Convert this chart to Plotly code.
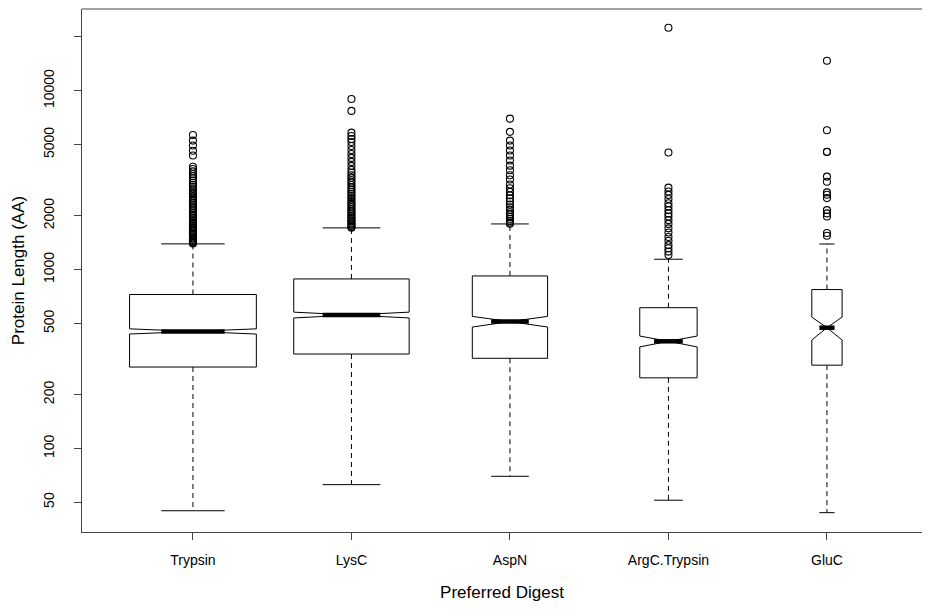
import numpy as np
import plotly.graph_objects as go

# ---- data (protein length, AA) ----
categories = ["Trypsin", "LysC", "AspN", "ArgC.Trypsin", "GluC"]
lower_whisker = [44.8, 62.7, 69.8, 51.3, 43.7]
q1 = [285, 337, 319, 248, 292]
median = [451, 557, 512, 397, 473]
q3 = [725, 886, 921, 612, 773]
upper_whisker = [1392, 1710, 1799, 1142, 1390]
n_obs = [2100, 1740, 740, 430, 120]

outliers_trypsin = [5660, 5260, 4940, 4620, 4340, 3760, 3650, 3540, 3420, 3330, 3240, 3150,
                    3060, 2980, 2910, 2840, 2770, 2700, 2640, 2580, 2520, 2460, 2410, 2360,
                    2310, 2260, 2210, 2165, 2120, 2075, 2030, 1990, 1950, 1910, 1870, 1835,
                    1800, 1765, 1730, 1700, 1670, 1640, 1610, 1585, 1560, 1535, 1510, 1490,
                    1470, 1450, 1430, 1415, 1400]
outliers_lysc = [8990, 7710, 5830, 5580, 5370, 5170, 4910, 4665, 4430, 4210, 4000, 3800,
                 3610, 3480, 3370, 3260, 3160, 3060, 2970, 2880, 2800, 2720, 2650, 2580,
                 2510, 2450, 2390, 2330, 2280, 2230, 2180, 2130, 2085, 2040, 2000, 1960,
                 1920, 1885, 1850, 1815, 1785, 1755, 1730, 1715]
outliers_aspn = [6980, 5890, 5260, 4940, 4630, 4340, 4070, 3810, 3590, 3370, 3190, 2990,
                 2850, 2720, 2600, 2500, 2400, 2310, 2230, 2160, 2090, 2030, 1970, 1920,
                 1870, 1830, 1805]
outliers_argc = [22500, 4510, 2870, 2730, 2615, 2480, 2350, 2250, 2150, 2060, 1980, 1890,
                 1800, 1700, 1610, 1520, 1450, 1370, 1315, 1260, 1207]
outliers_gluc = [14700, 6010, 4560, 4540, 3310, 3100, 2700, 2620, 2510, 2150, 2060, 1980,
                 1600, 1545]
outliers = [outliers_trypsin, outliers_lysc, outliers_aspn, outliers_argc, outliers_gluc]

# ---- R boxplot conventions (varwidth + notch) ----
positions = [float(p) for p in range(1, len(categories) + 1)]
boxwex = 0.8
n_arr = np.array(n_obs, dtype=float)
widths = [float(w) for w in boxwex * np.sqrt(n_arr / n_arr.max())]
notchspan = [float(s) for s in 1.58 * (np.array(q3) - np.array(q1)) / np.sqrt(n_arr)]

FONT = "Liberation Sans, Arial, Helvetica, sans-serif"
FRAME = "#444"
fig = go.Figure()

for i, cat in enumerate(categories):
    fig.add_trace(go.Box(
        x=[positions[i]], q1=[q1[i]], median=[median[i]], q3=[q3[i]],
        lowerfence=[q1[i]], upperfence=[q3[i]], notchspan=[notchspan[i]],
        notched=True, notchwidth=0.5, width=widths[i], whiskerwidth=0,
        line=dict(color="black", width=1), fillcolor="white",
        boxpoints=False, name=cat, showlegend=False, hoverinfo="skip"))

# dashed whiskers
wx, wy = [], []
for i in range(len(categories)):
    wx += [positions[i], positions[i], None, positions[i], positions[i], None]
    wy += [q3[i], upper_whisker[i], None, q1[i], lower_whisker[i], None]
fig.add_trace(go.Scatter(x=wx, y=wy, mode="lines", showlegend=False, hoverinfo="skip",
                         line=dict(color="black", width=1, dash="5px,4px")))

# whisker caps (half the box width)
cx, cy = [], []
for i in range(len(categories)):
    h = widths[i] / 4
    for v in (upper_whisker[i], lower_whisker[i]):
        cx += [positions[i] - h, positions[i] + h, None]
        cy += [v, v, None]
fig.add_trace(go.Scatter(x=cx, y=cy, mode="lines", showlegend=False, hoverinfo="skip",
                         line=dict(color="black", width=1)))

# thick median lines spanning the notch
mx, my = [], []
for i in range(len(categories)):
    h = widths[i] / 4
    mx += [positions[i] - h, positions[i] + h, None]
    my += [median[i], median[i], None]
fig.add_trace(go.Scatter(x=mx, y=my, mode="lines", showlegend=False, hoverinfo="skip",
                         line=dict(color="black", width=4.5)))

# outliers
ox, oy = [], []
for i, vals in enumerate(outliers):
    ox += [positions[i]] * len(vals)
    oy += vals
fig.add_trace(go.Scatter(x=ox, y=oy, mode="markers", showlegend=False, hoverinfo="skip",
                         marker=dict(symbol="circle-open", size=7, color="black",
                                     line=dict(width=1.1, color="black"))))

ytick_vals = [50, 100, 200, 500, 1000, 2000, 5000, 10000, 20000]
ytick_text = ["50", "100", "200", "500", "1000", "2000", "5000", "10000", ""]

# page keeps its default 8px body margin, so the figure is sized to fit inside it
fig.update_layout(
    width=914, height=594,
    margin=dict(l=74, r=0, t=1, b=70),
    paper_bgcolor="white", plot_bgcolor="white",
    font=dict(family=FONT, size=14, color="black"),
    boxmode="overlay",
    hovermode=False,
    xaxis=dict(range=[0.3, 5.5997], tickvals=positions, ticktext=categories,
               showgrid=False, zeroline=False, showline=True, mirror=False,
               linecolor=FRAME, linewidth=1, ticks="outside", ticklen=7,
               tickcolor=FRAME, ticklabelstandoff=8,
               title=dict(text="Preferred Digest", standoff=22)),
    yaxis=dict(type="log", range=[1.5324, 4.457], tickvals=ytick_vals, ticktext=ytick_text,
               tickangle=-90, showgrid=False, zeroline=False, showline=True, mirror=False,
               linecolor=FRAME, linewidth=1, ticks="outside", ticklen=7,
               tickcolor=FRAME, ticklabelstandoff=14,
               title=dict(text="Protein Length (AA)", standoff=12)),
    # top edge of the frame (the right edge lies outside the reference picture)
    shapes=[dict(type="line", xref="paper", yref="paper", x0=0, x1=1, y0=1, y1=1,
                 line=dict(color=FRAME, width=1))],
)

fig.write_html("out.html", config={"displayModeBar": False})
